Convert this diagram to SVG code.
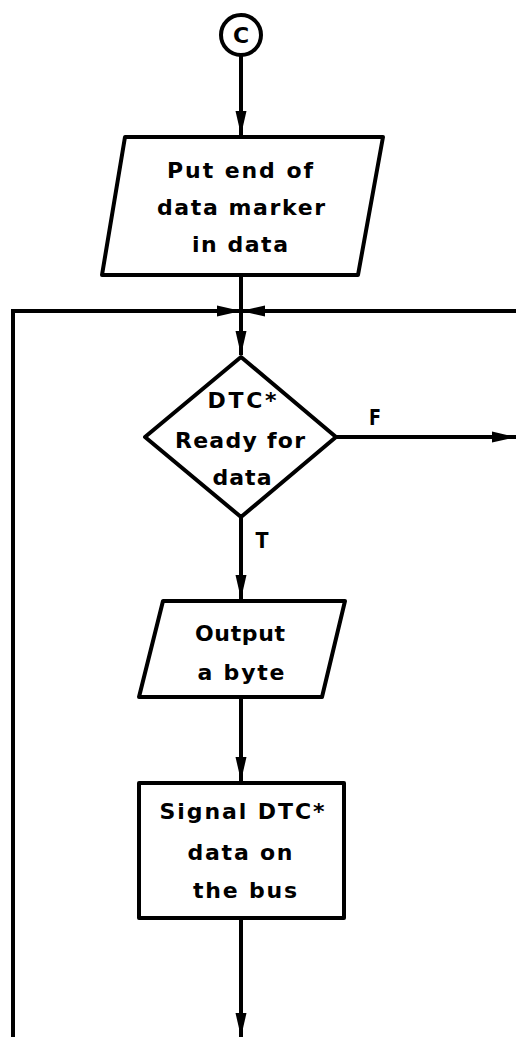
<svg xmlns="http://www.w3.org/2000/svg" width="516" height="1037" viewBox="0 0 516 1037">
<style>
.s{fill:#fff;stroke:#000;stroke-width:4;stroke-linejoin:round}
.c{fill:none;stroke:#000;stroke-width:4}
text{font-family:"DejaVu Sans","Liberation Sans",sans-serif;font-weight:bold;font-size:22px;fill:#000;text-anchor:middle}
</style>
<defs>
<marker id="ah" viewBox="-24 -6 24 12" markerWidth="24" markerHeight="12" refX="0" refY="0" orient="auto" markerUnits="userSpaceOnUse">
<path d="M0,0 L-24,-5.5 L-24,5.5 Z" fill="#000"/>
</marker>
</defs>
<g id="connectors">
<line class="c" x1="241" y1="56" x2="241" y2="135" marker-end="url(#ah)"/>
<line class="c" x1="241" y1="275" x2="241" y2="355" marker-end="url(#ah)"/>
<polyline class="c" points="13,1037 13,311 241,311" marker-end="url(#ah)"/>
<line class="c" x1="516" y1="311" x2="241" y2="311" marker-end="url(#ah)"/>
<line class="c" x1="336" y1="437" x2="516" y2="437" marker-end="url(#ah)"/>
<line class="c" x1="241" y1="517" x2="241" y2="599" marker-end="url(#ah)"/>
<line class="c" x1="241" y1="697" x2="241" y2="781" marker-end="url(#ah)"/>
<line class="c" x1="241" y1="918" x2="241" y2="1037" marker-end="url(#ah)"/>
<text x="375" y="425" textLength="12" lengthAdjust="spacingAndGlyphs">F</text>
<text x="262" y="548" textLength="13" lengthAdjust="spacingAndGlyphs">T</text>
</g>
<g id="start">
<circle class="s" cx="241" cy="35" r="20"/>
<text x="241" y="43">C</text>
</g>
<g id="put-marker">
<polygon class="s" points="125,137 383,137 358,275 102,275"/>
<text x="240" y="178" textLength="146" lengthAdjust="spacing">Put end of</text>
<text x="241" y="215" textLength="168" lengthAdjust="spacing">data marker</text>
<text x="240" y="252" textLength="96" lengthAdjust="spacing">in data</text>
</g>
<g id="ready">
<polygon class="s" points="241,357 336,437 241,517 145,437"/>
<text x="242" y="408" textLength="69" lengthAdjust="spacing">DTC*</text>
<text x="240" y="448" textLength="130" lengthAdjust="spacing">Ready for</text>
<text x="242" y="485" textLength="59" lengthAdjust="spacing">data</text>
</g>
<g id="output">
<polygon class="s" points="163,601 345,601 322,697 139,697"/>
<text x="240" y="641" textLength="90" lengthAdjust="spacing">Output</text>
<text x="241" y="680" textLength="87" lengthAdjust="spacing">a byte</text>
</g>
<g id="signal">
<rect class="s" x="139" y="783" width="205" height="135"/>
<text x="242" y="819" textLength="165" lengthAdjust="spacing">Signal DTC*</text>
<text x="240" y="860" textLength="105" lengthAdjust="spacing">data on</text>
<text x="245" y="898" textLength="104" lengthAdjust="spacing">the bus</text>
</g>
</svg>
